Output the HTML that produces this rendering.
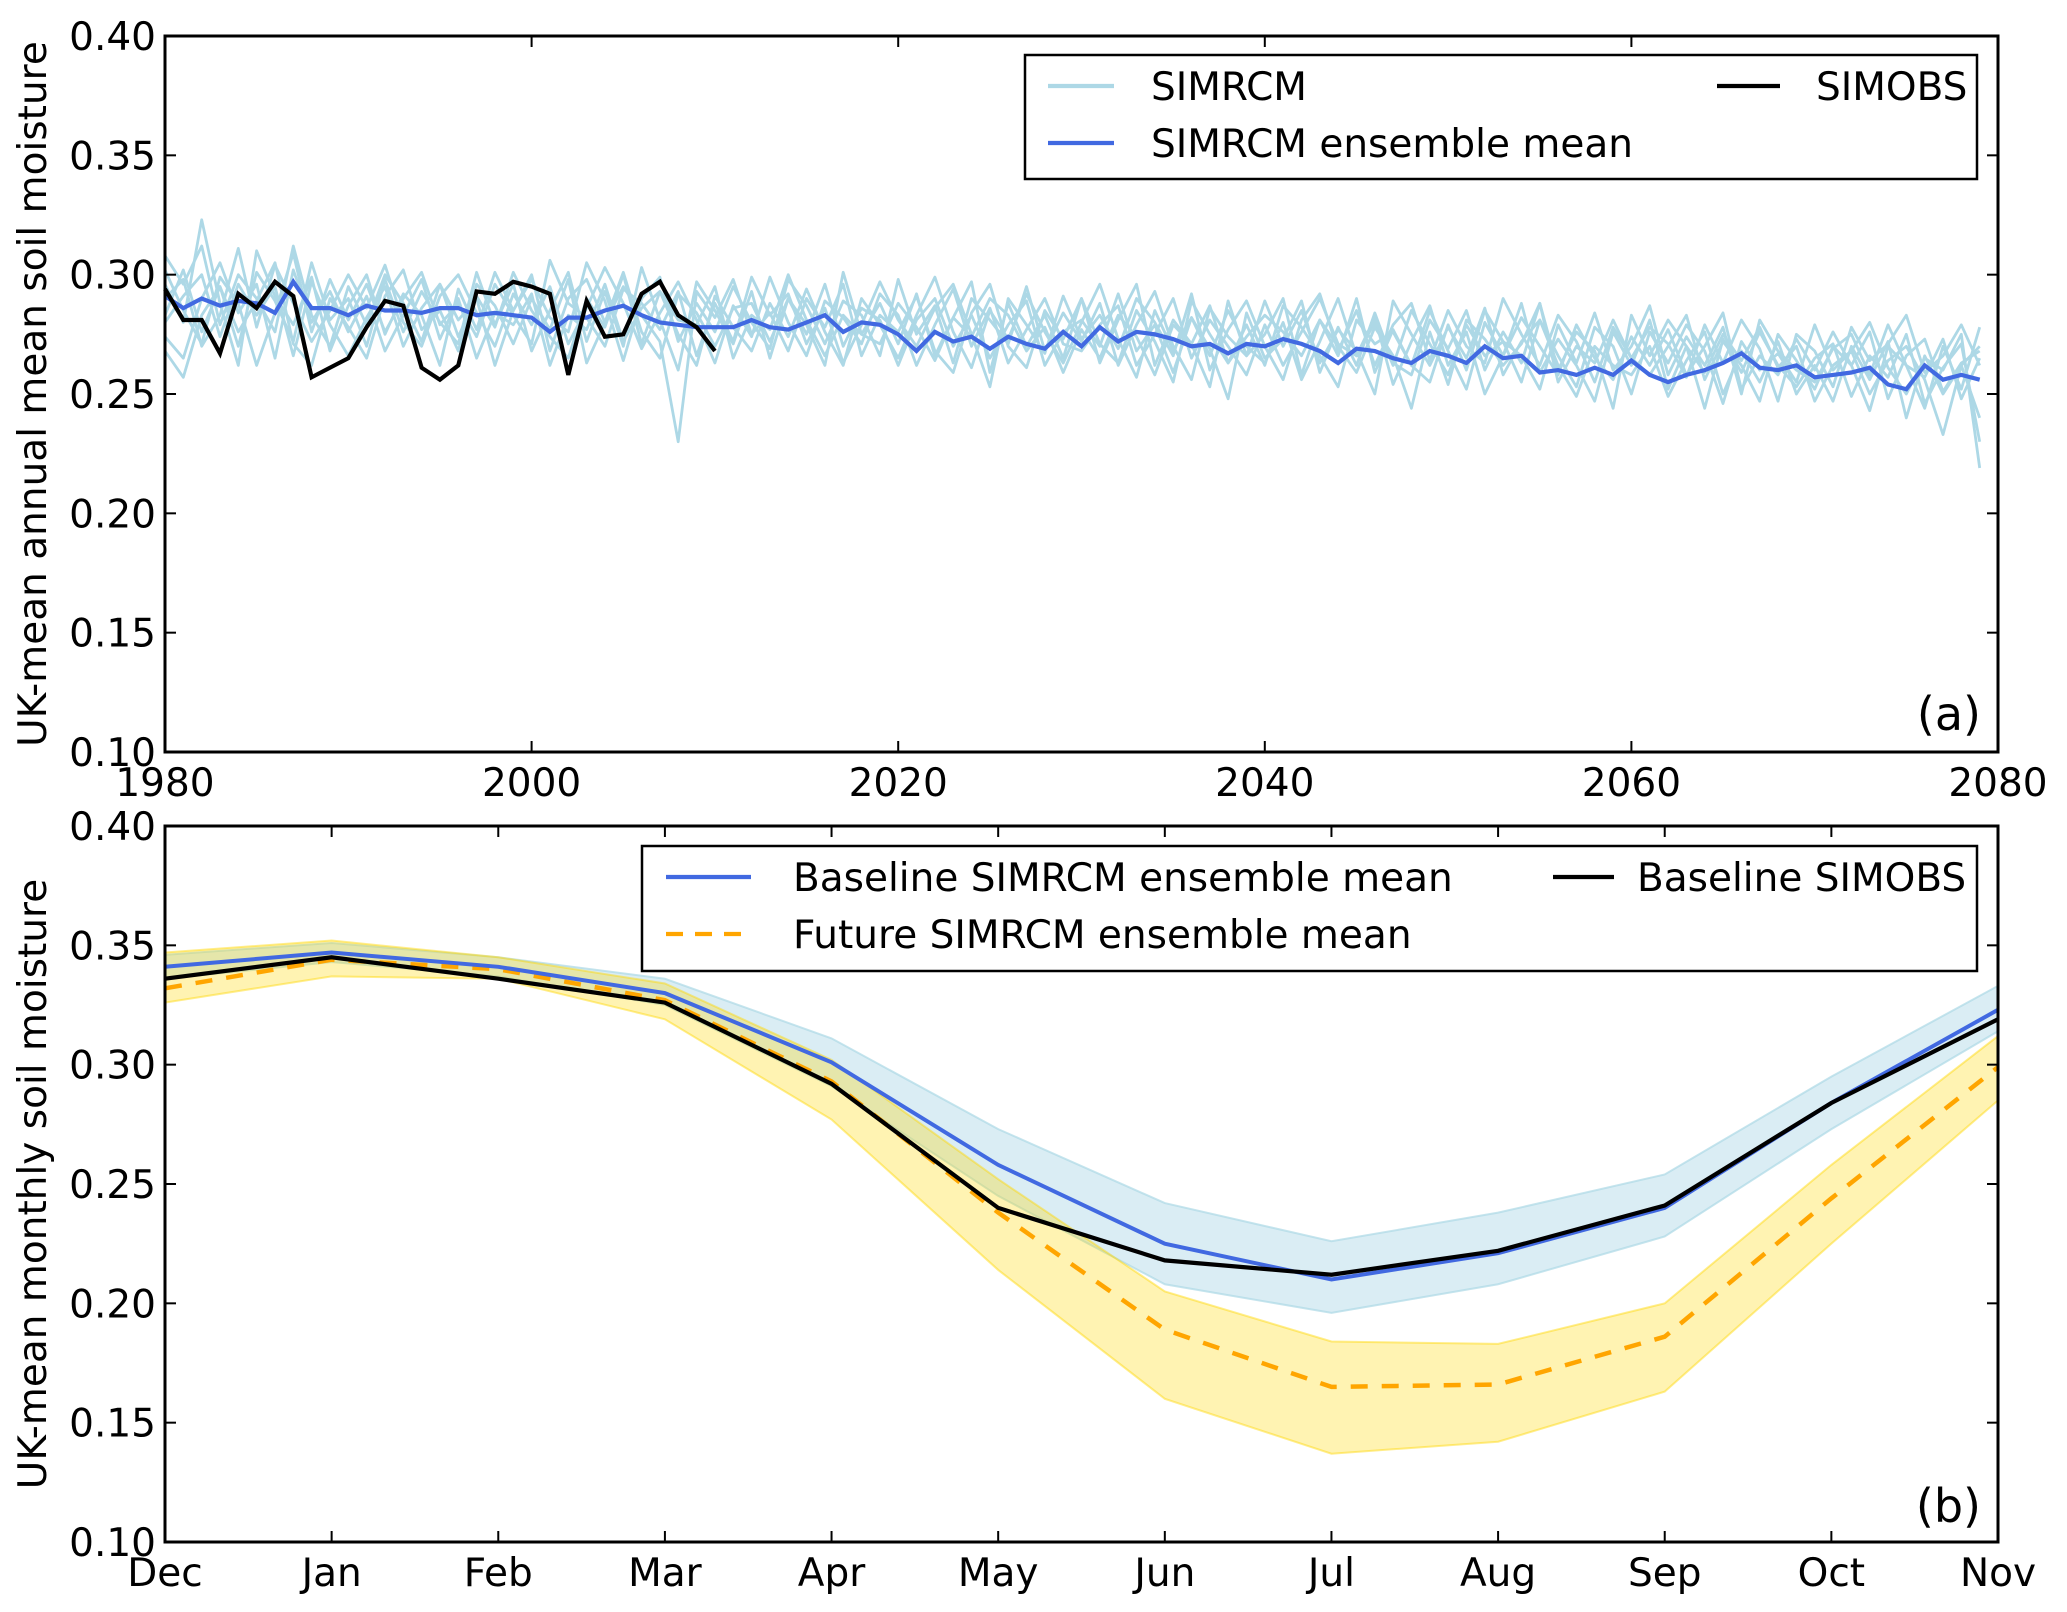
<!DOCTYPE html>
<html><head><meta charset="utf-8"><style>
html,body{margin:0;padding:0;background:#fff}
svg{display:block}
text{font-family:"DejaVu Sans","Liberation Sans",sans-serif;fill:#000}
</style></head><body>
<svg id="c" width="2067" height="1612" viewBox="0 0 2067 1612" xmlns="http://www.w3.org/2000/svg"></svg>
<script>
// ---------- data: panel (a) ----------
const yearStart = 1980;
const ensMean = [291,286,290,287,289,288,284,297,286,286,283,287,285,285,284,286,286,283,284,283,282,276,282,282,285,287,283,280,279,278,278,278,281,278,277,280,283,276,280,279,275,268,276,272,274,269,274,271,269,276,270,278,272,276,275,273,270,271,267,271,270,273,271,268,263,269,268,265,263,268,266,263,270,265,266,259,260,258,261,258,264,258,255,258,260,263,267,261,260,262,257,258,259,261,254,252,262,256,258,256];
const member1 = [308,296,312,279,300,290,276,312,283,270,295,279,300,288,272,296,281,290,262,285,300,268,290,298,280,301,276,265,292,284,270,286,288,272,290,275,296,270,286,281,262,281,290,270,283,265,279,289,262,276,281,270,292,268,279,259,282,266,285,270,263,280,256,272,290,266,280,262,285,271,258,279,266,272,255,281,262,249,270,262,258,270,249,264,276,250,268,255,272,250,262,247,270,256,272,240,266,250,262,240];
const member2 = [283,302,276,295,270,301,289,272,305,281,290,270,298,276,293,280,271,301,279,296,268,285,301,272,293,270,303,281,260,297,285,271,293,265,290,279,262,301,275,288,271,292,266,282,297,259,288,270,283,265,290,263,281,296,262,281,271,253,289,266,275,290,258,281,266,290,259,277,262,285,268,252,280,266,288,259,273,262,247,276,262,281,252,270,244,273,259,276,262,253,265,271,249,266,257,275,246,261,271,230];
const member3 = [296,280,323,288,262,310,291,279,299,268,287,300,275,292,283,262,294,277,301,285,298,282,276,305,289,264,290,299,272,288,276,295,280,269,298,287,271,289,283,266,298,275,287,263,290,281,271,295,268,284,272,288,262,279,293,270,256,286,274,266,289,270,285,263,277,268,250,289,275,262,278,265,286,258,272,281,266,253,278,270,250,276,263,279,268,246,272,260,267,255,279,260,268,250,264,270,256,233,262,270];
const member4 = [274,265,290,305,284,296,265,302,280,293,276,291,268,283,298,273,290,265,284,279,292,262,283,277,296,272,286,293,275,262,291,278,268,288,274,294,276,262,290,279,265,283,299,276,261,285,273,292,276,263,280,296,273,257,285,268,282,269,248,284,265,273,289,259,278,262,284,263,258,281,269,285,260,276,263,288,255,270,263,281,265,258,270,283,256,272,262,247,275,264,252,270,262,276,248,266,273,251,263,268];
const member5 = [290,298,270,283,311,278,304,288,272,285,300,286,304,280,270,291,300,284,270,292,279,295,271,286,303,288,269,284,297,281,263,287,274,299,280,266,289,282,271,292,283,262,279,294,270,286,263,277,290,271,268,279,287,262,275,290,265,281,270,258,279,262,276,290,271,266,282,254,272,287,262,276,250,266,282,270,258,279,265,256,274,262,277,258,270,284,252,266,258,273,260,276,262,243,270,262,257,273,248,265];
const member6 = [268,257,283,295,276,289,305,271,262,290,278,265,291,302,277,285,268,296,287,271,290,277,298,263,280,295,283,272,230,293,282,298,275,284,268,290,278,296,266,283,276,291,268,259,284,296,270,261,285,273,290,271,263,285,272,255,289,275,263,279,262,287,278,266,253,281,271,276,262,255,279,260,285,272,266,252,279,263,284,260,270,287,258,274,262,278,250,281,268,260,255,269,275,258,279,262,244,270,252,278];
const member7 = [302,285,271,299,288,262,284,309,276,298,281,296,276,290,301,279,288,274,296,283,271,306,288,282,270,294,288,277,293,266,288,272,299,283,292,271,286,263,279,297,281,270,286,296,275,253,290,279,267,291,273,283,269,290,280,266,292,260,277,289,270,256,281,292,268,285,262,279,288,264,285,270,263,290,275,262,283,272,255,278,265,278,271,257,279,263,281,269,247,275,268,253,278,264,271,283,259,266,279,262];
const member8 = [280,291,300,274,296,283,295,266,297,279,266,282,295,270,286,296,274,291,278,301,285,274,265,290,278,300,271,293,281,279,295,265,283,277,300,281,266,283,275,271,288,278,264,282,274,290,283,268,278,259,277,265,283,274,258,279,271,287,263,274,283,276,266,281,270,259,278,266,244,276,254,281,273,262,271,288,260,276,268,244,283,266,281,270,259,275,264,278,261,270,247,262,268,280,261,250,265,260,275,219];
const obsA = [294,281,281,267,292,286,297,291,257,261,265,278,289,287,261,256,262,293,292,297,295,292,258,289,274,275,292,297,283,278,268];
const xTicksA = [1980,2000,2020,2040,2060,2080];
const yTicks = [0.10,0.15,0.20,0.25,0.30,0.35,0.40];
// ---------- data: panel (b) ----------
const months = ["Dec","Jan","Feb","Mar","Apr","May","Jun","Jul","Aug","Sep","Oct","Nov"];
const baseMean = [0.341,0.347,0.341,0.330,0.301,0.258,0.225,0.210,0.221,0.240,0.284,0.323];
const baseUpper = [0.346,0.351,0.345,0.336,0.311,0.273,0.242,0.226,0.238,0.254,0.295,0.333];
const baseLower = [0.336,0.343,0.337,0.325,0.291,0.245,0.208,0.196,0.208,0.228,0.273,0.314];
const baseObs = [0.336,0.345,0.336,0.326,0.292,0.240,0.218,0.212,0.222,0.241,0.284,0.319];
const futMean = [0.332,0.344,0.340,0.327,0.293,0.238,0.189,0.165,0.166,0.186,0.244,0.299];
const futUpper = [0.347,0.352,0.345,0.334,0.302,0.252,0.205,0.184,0.183,0.200,0.258,0.312];
const futLower = [0.326,0.337,0.336,0.319,0.277,0.214,0.160,0.137,0.142,0.163,0.225,0.285];

const NS="http://www.w3.org/2000/svg";
const svg=document.getElementById('c');
function mk(tag,attrs,parent){const e=document.createElementNS(NS,tag);for(const k in attrs)e.setAttribute(k,attrs[k]);(parent||svg).appendChild(e);return e;}
const L=165,R=1998;
const A={top:36,bot:752}, B={top:826,bot:1542};
const yA=v=>A.bot-(v-0.10)/0.30*(A.bot-A.top);
const yB=v=>B.bot-(v-0.10)/0.30*(B.bot-B.top);
const xA=yr=>L+(yr-1980)/100*(R-L);
const xB=i=>L+i/11*(R-L);
function pts(vals,xf,yf){return vals.map((v,i)=>xf(i).toFixed(1)+','+yf(v).toFixed(1)).join(' ');}
const FS=39;

// panel (a)
const gA=mk('g',{});


[member1,member2,member3,member4,member5,member6,member7,member8].forEach((m,k)=>{
  const p=mk('polyline',{points:pts(m,i=>xA(yearStart+i),v=>yA(v/1000)),fill:'none',stroke:'#add8e6','stroke-width':2.8,'stroke-linejoin':'round'},gA);
  
  
});
let p=mk('polyline',{points:pts(ensMean,i=>xA(yearStart+i),v=>yA(v/1000)),fill:'none',stroke:'#4169e1','stroke-width':4.2},gA);


p=mk('polyline',{points:pts(obsA,i=>xA(yearStart+i),v=>yA(v/1000)),fill:'none',stroke:'#000','stroke-width':4.2},gA);



// panel (b)
const gB=mk('g',{});


function band(up,lo,fill,stroke,name){
  const s=up.map((v,i)=>xB(i)+','+yB(v)).concat(lo.map((v,i)=>xB(i)+','+yB(v)).reverse()).join(' ');
  const e=mk('polygon',{points:s,fill:fill,stroke:stroke,'stroke-width':2},gB);
  
  
}
band(baseUpper,baseLower,'rgba(173,216,230,0.45)','rgba(173,216,230,0.7)','baseline-range-band');
band(futUpper,futLower,'rgba(255,215,0,0.3)','rgba(255,215,0,0.45)','future-range-band');
p=mk('polyline',{points:pts(futMean,xB,yB),fill:'none',stroke:'#ffa500','stroke-width':4.5,'stroke-dasharray':'17,14'},gB);


p=mk('polyline',{points:pts(baseMean,xB,yB),fill:'none',stroke:'#4169e1','stroke-width':4},gB);


p=mk('polyline',{points:pts(baseObs,xB,yB),fill:'none',stroke:'#000','stroke-width':4.2},gB);



// axes
function axes(P,yf,xticks,name,ylabel){
  const r=mk('rect',{x:L,y:P.top,width:R-L,height:P.bot-P.top,fill:'none',stroke:'#000','stroke-width':3});
  
  
  yTicks.forEach(v=>{
    const y=yf(v);
    mk('line',{x1:L,x2:L+11,y1:y,y2:y,stroke:'#000','stroke-width':2});
    mk('line',{x1:R,x2:R-11,y1:y,y2:y,stroke:'#000','stroke-width':2});
    const t=mk('text',{x:L-9,y:y+14,'text-anchor':'end','font-size':FS});
    t.textContent=v.toFixed(2);
    
    
  });
  xticks.forEach(([x,lab])=>{
    mk('line',{x1:x,x2:x,y1:P.bot,y2:P.bot-11,stroke:'#000','stroke-width':2});
    mk('line',{x1:x,x2:x,y1:P.top,y2:P.top+11,stroke:'#000','stroke-width':2});
    const t=mk('text',{x:x,y:P.bot+44,'text-anchor':'middle','font-size':FS});
    t.textContent=lab;
    
    
  });
  const cy=(P.top+P.bot)/2;
  const t=mk('text',{x:0,y:0,'text-anchor':'middle','font-size':FS,transform:`translate(46,${cy}) rotate(-90)`});
  t.textContent=ylabel;
  
  
}
axes(A,yA,xTicksA.map(y=>[xA(y),String(y)]),'panel-a','UK-mean annual mean soil moisture');
axes(B,yB,months.map((m,i)=>[xB(i),m]),'panel-b','UK-mean monthly soil moisture');

// panel letters
let t=mk('text',{x:1981,y:730,'text-anchor':'end','font-size':46});t.textContent='(a)';


t=mk('text',{x:1981,y:1522,'text-anchor':'end','font-size':46});t.textContent='(b)';



// legends
function legend(box,entries,name){
  const g=mk('g',{});
  
  
  mk('rect',{x:box[0],y:box[1],width:box[2],height:box[3],fill:'#fff',stroke:'#000','stroke-width':2.5},g);
  entries.forEach(e=>{
    const ln=mk('line',{x1:e.x1,x2:e.x2,y1:e.y,y2:e.y,stroke:e.c,'stroke-width':4.2},g);
    if(e.dash) ln.setAttribute('stroke-dasharray',e.dash);
    
    
    const tt=mk('text',{x:e.tx,y:e.y+14,'font-size':FS},g);
    tt.textContent=e.label;
    
    
  });
}
legend([1025,55,952,124],[
  {x1:1048,x2:1114,y:86,c:'#add8e6',tx:1151,label:'SIMRCM'},
  {x1:1048,x2:1114,y:143,c:'#4169e1',tx:1151,label:'SIMRCM ensemble mean'},
  {x1:1717,x2:1780,y:86,c:'#000',tx:1816,label:'SIMOBS'}
],'legend-a');
legend([642,846,1335,125],[
  {x1:666,x2:751,y:877,c:'#4169e1',tx:793,label:'Baseline SIMRCM ensemble mean'},
  {x1:666,x2:751,y:934,c:'#ffa500',dash:'17,12',tx:793,label:'Future SIMRCM ensemble mean'},
  {x1:1553,x2:1614,y:877,c:'#000',tx:1637,label:'Baseline SIMOBS'}
],'legend-b');
</script>
</body></html>
